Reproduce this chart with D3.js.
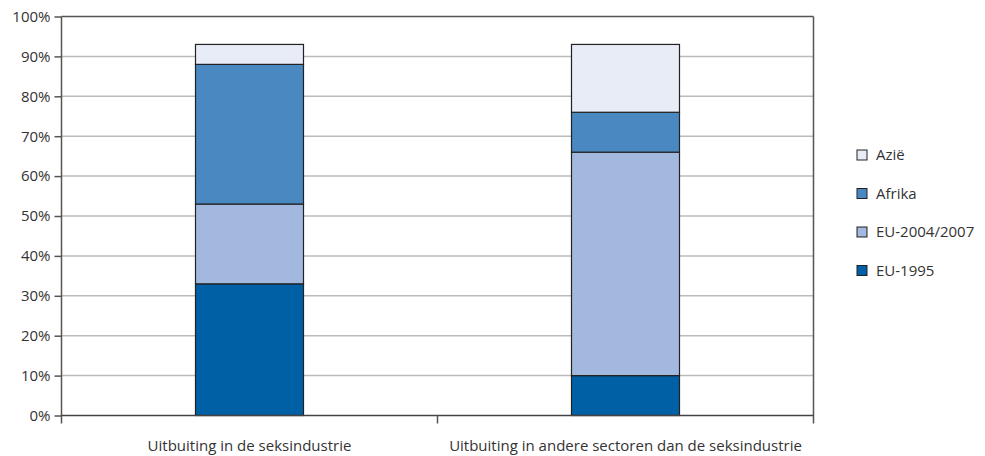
<!DOCTYPE html>
<html><head><meta charset="utf-8">
<script src="https://cdn.jsdelivr.net/npm/d3@7"></script>
<style>body{margin:0;background:#fff}text{font-family:"Open Sans",Lato,sans-serif;fill:#333}</style>
</head><body><svg id="c" width="985" height="456"></svg>
<script>
const categories = ["Uitbuiting in de seksindustrie", "Uitbuiting in andere sectoren dan de seksindustrie"];
const seriesNames = ["EU-1995", "EU-2004/2007", "Afrika", "Azië"];
const eu1995 = [33, 10];
const eu2004 = [20, 56];
const afrika = [35, 10];
const azie = [5, 17];
const colors = ["#0060a6", "#a2b8de", "#4a88c2", "#e8ecf6"];
const yTicks = [0,10,20,30,40,50,60,70,80,90,100];

const svg = d3.select("#c");
const m = {l:61.5, r:813.5, t:16.5, b:415.5};
const x = d3.scaleBand().domain(categories).range([m.l, m.r]);
const y = d3.scaleLinear().domain([0,100]).range([m.b, m.t]);

// gridlines
svg.append("g").selectAll("line").data(yTicks.filter(d=>d>0&&d<100)).join("line")
  .attr("x1", m.l).attr("x2", m.r).attr("y1", d=>y(d)).attr("y2", d=>y(d))
  .attr("stroke", "#bbb").attr("stroke-width", 1.5);

// frame top
svg.append("line").attr("x1", m.l).attr("x2", m.r).attr("y1", m.t).attr("y2", m.t).attr("stroke","#555").attr("stroke-width",1.5);

const table = categories.map((c,i)=>({cat:c, "EU-1995":eu1995[i], "EU-2004/2007":eu2004[i], "Afrika":afrika[i], "Azië":azie[i]}));
const stack = d3.stack().keys(seriesNames)(table);
const bw = 108;
svg.append("g").selectAll("g").data(stack).join("g").attr("fill", (d,i)=>colors[i])
  .selectAll("rect").data(d=>d).join("rect")
  .attr("x", d=>x(d.data.cat)+x.bandwidth()/2-bw/2).attr("width", bw)
  .attr("y", d=>y(d[1])).attr("height", d=>y(d[0])-y(d[1]))
  .attr("stroke", "#222").attr("stroke-width", 1.2);

// axes
const yAxis = d3.axisLeft(y).tickValues(yTicks).tickFormat(d=>d+"%").tickSize(7).tickPadding(4);
const gy = svg.append("g").attr("transform", `translate(${m.l},0)`).call(yAxis);
gy.select(".domain").remove();
gy.selectAll(".tick line").attr("stroke","#555").attr("stroke-width",1.5);
gy.selectAll("text").style("font-size","15px").attr("fill","#333");
svg.append("line").attr("x1", m.l).attr("x2", m.l).attr("y1", m.t).attr("y2", m.b+8).attr("stroke","#555").attr("stroke-width",1.5);
svg.append("line").attr("x1", m.r).attr("x2", m.r).attr("y1", m.t).attr("y2", m.b+8).attr("stroke","#555").attr("stroke-width",1.5);

const xAxis = d3.axisBottom(x).tickSize(0).tickPadding(25);
const gx = svg.append("g").attr("transform", `translate(0,${m.b})`).call(xAxis);
gx.select(".domain").remove();
gx.selectAll("text").style("font-size","15px").attr("fill","#333");
svg.append("line").attr("x1", m.l).attr("x2", m.r).attr("y1", m.b).attr("y2", m.b).attr("stroke","#444").attr("stroke-width",1.5);
// category boundary ticks
svg.append("g").selectAll("line").data(categories.slice(1)).join("line")
  .attr("x1", d=>x(d)).attr("x2", d=>x(d)).attr("y1", m.b).attr("y2", m.b+8)
  .attr("stroke","#555").attr("stroke-width",1.5);

// legend
const legendOrder = ["Azië","Afrika","EU-2004/2007","EU-1995"];
const lg = svg.append("g").selectAll("g").data(legendOrder).join("g")
  .attr("transform", (d,i)=>`translate(857,${150+i*38.5})`);
lg.append("rect").attr("width",10).attr("height",10)
  .attr("fill", d=>colors[seriesNames.indexOf(d)]).attr("stroke","#222").attr("stroke-width",1);
lg.append("text").attr("x",19).attr("y",5).attr("dy","0.36em").style("font-size","15px").text(d=>d);
</script></body></html>
